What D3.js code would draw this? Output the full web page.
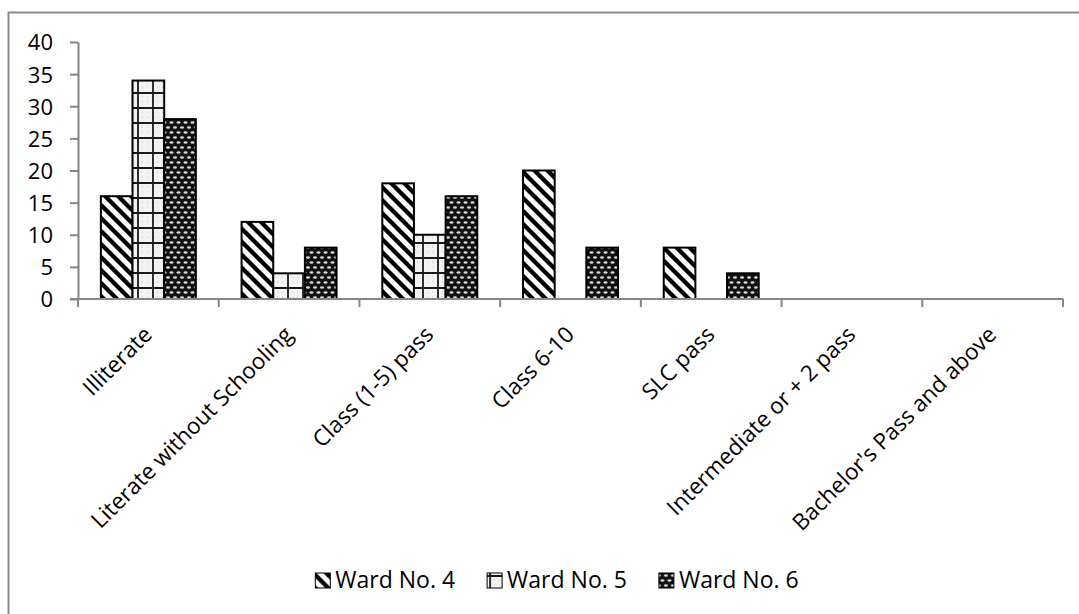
<!DOCTYPE html>
<meta charset="utf-8">
<script src="https://d3js.org/d3.v7.min.js"></script>
<style type="text/css">
    body { margin: 0; background: #fff; }
    text { font-family: "Open Sans", sans-serif; fill: #000; }
    .axis .domain, .axis line { stroke: #868686; stroke-width: 2; }
</style>
<body></body>
<script>

// chart data
var categories = ["Illiterate", "Literate without Schooling", "Class (1-5) pass", "Class 6-10",
    "SLC pass", "Intermediate or + 2 pass", "Bachelor's Pass and above"];
var seriesNames = ["Ward No. 4", "Ward No. 5", "Ward No. 6"];
var ward4 = [16, 12, 18, 20, 8, 0, 0];
var ward5 = [34, 4, 10, 0, 0, 0, 0];
var ward6 = [28, 8, 16, 8, 4, 0, 0];
var yTicks = [0, 5, 10, 15, 20, 25, 30, 35, 40];

var seriesValues = [ward4, ward5, ward6];
var patternIds = ["pat4", "pat5", "pat6"];

var W = 1079, H = 614;
var plot = {left: 78, right: 1063, top: 42, bottom: 299};

var svg = d3.select("body").append("svg")
    .attr("width", W)
    .attr("height", H);

// fill patterns
var defs = svg.append("defs");

var p4 = defs.append("pattern").attr("id", "pat4")
    .attr("patternUnits", "userSpaceOnUse").attr("width", 13).attr("height", 13);
p4.append("rect").attr("width", 13).attr("height", 13).attr("fill", "#fff");
p4.append("path").attr("d", "M-2,-2 L15,15 M-8,5 L8,21 M5,-8 L21,8")
    .attr("stroke", "#000").attr("stroke-width", 4.3);

var p5 = defs.append("pattern").attr("id", "pat5")
    .attr("patternUnits", "userSpaceOnUse").attr("width", 15).attr("height", 15)
    .attr("x", 2).attr("y", 2);
p5.append("rect").attr("width", 15).attr("height", 15).attr("fill", "#f3f3f3");
p5.append("path").attr("d", "M0,1 H15 M1,0 V15")
    .attr("stroke", "#1a1a1a").attr("stroke-width", 1.8);
p5.append("path").attr("d", "M5,5 h1 M10,10 h1 M10,5 h1 M5,10 h1")
    .attr("stroke", "#c8c8c8").attr("stroke-width", 1);

var p6 = defs.append("pattern").attr("id", "pat6")
    .attr("patternUnits", "userSpaceOnUse").attr("width", 7).attr("height", 10);
p6.append("rect").attr("width", 7).attr("height", 10).attr("fill", "#111");
[[3.5, 2.5], [0, 7.5], [7, 7.5]].forEach(function(d) {
    p6.append("ellipse").attr("cx", d[0]).attr("cy", d[1])
        .attr("rx", 2).attr("ry", 1.2).attr("fill", "#d8d8d8");
});

// outer frame
svg.append("rect")
    .attr("x", 8.5).attr("y", 12.5)
    .attr("width", W).attr("height", H)
    .attr("fill", "none")
    .attr("stroke", "#8c8c8c")
    .attr("stroke-width", 2);

// scales
var xScale = d3.scaleBand()
    .domain(categories)
    .range([plot.left, plot.right])
    .paddingInner(0.325)
    .paddingOuter(0.1625);

var xInner = d3.scaleBand()
    .domain(seriesNames)
    .range([0, xScale.bandwidth()]);

var yScale = d3.scaleLinear()
    .domain([0, 40])
    .range([plot.bottom, plot.top]);

// y axis
var yAxis = d3.axisLeft(yScale)
    .tickValues(yTicks)
    .tickSize(8)
    .tickSizeOuter(0)
    .tickPadding(17);

var yAxisGroup = svg.append("g")
    .attr("class", "y axis")
    .attr("transform", "translate(" + plot.left + ",0)")
    .call(yAxis);

yAxisGroup.selectAll("text")
    .style("font-size", "22px")
    .attr("dy", "0.36em");

// bars
var groups = svg.selectAll(".grp")
    .data(seriesValues)
    .enter()
    .append("g")
    .attr("class", "grp");

groups.selectAll("rect")
    .data(function(vals, i) {
        return vals.map(function(v, j) { return {s: i, cat: categories[j], v: v}; });
    })
    .enter()
    .filter(function(d) { return d.v > 0; })
    .append("rect")
    .attr("x", function(d) { return xScale(d.cat) + xInner(seriesNames[d.s]); })
    .attr("y", function(d) { return yScale(d.v); })
    .attr("width", xInner.bandwidth())
    .attr("height", function(d) { return yScale(0) - yScale(d.v); })
    .attr("fill", function(d) { return "url(#" + patternIds[d.s] + ")"; })
    .attr("stroke", "#000")
    .attr("stroke-width", 2);

// x axis line with ticks at category boundaries
var gap = (xScale.step() - xScale.bandwidth()) / 2;
var xAxisGroup = svg.append("g").attr("class", "x axis");

xAxisGroup.append("path")
    .attr("class", "domain")
    .attr("d", "M" + (plot.left - 8) + "," + yScale(0) + "H" + plot.right)
    .attr("fill", "none");

var bounds = categories.map(function(c) { return xScale(c) - gap; })
    .concat([xScale(categories[categories.length - 1]) + xScale.bandwidth() + gap]);

xAxisGroup.selectAll(".btick")
    .data(bounds)
    .enter()
    .append("line")
    .attr("class", "btick")
    .attr("x1", function(d) { return d; })
    .attr("x2", function(d) { return d; })
    .attr("y1", yScale(0))
    .attr("y2", yScale(0) + 8);

// category labels, rotated
xAxisGroup.selectAll(".clabel")
    .data(categories)
    .enter()
    .append("text")
    .attr("class", "clabel")
    .attr("transform", function(d) {
        var cx = xScale(d) + xScale.bandwidth() / 2 + 5;
        return "translate(" + cx + "," + (yScale(0) + 37) + ") rotate(-45)";
    })
    .style("text-anchor", "end")
    .style("font-size", "22.5px")
    .text(function(d) { return d; });

// legend
var legend = svg.append("g").attr("class", "legend");
var items = legend.selectAll(".item")
    .data(seriesNames)
    .enter()
    .append("g")
    .attr("class", "item");

items.append("rect")
    .attr("width", 15).attr("height", 15)
    .attr("y", -15)
    .attr("fill", function(d, i) { return "url(#" + patternIds[i] + ")"; })
    .attr("stroke", "#000")
    .attr("stroke-width", 1);

items.append("text")
    .attr("x", 20)
    .style("font-size", "23px")
    .text(function(d) { return d; });

var xpos = 0;
var offsets = [];
items.each(function() {
    offsets.push(xpos);
    xpos += this.getBBox().width + 32;
});
var totalW = xpos - 32;
items.attr("transform", function(d, i) { return "translate(" + offsets[i] + ",0)"; });
legend.attr("transform", "translate(" + (557 - totalW / 2) + ",588)");

</script>
